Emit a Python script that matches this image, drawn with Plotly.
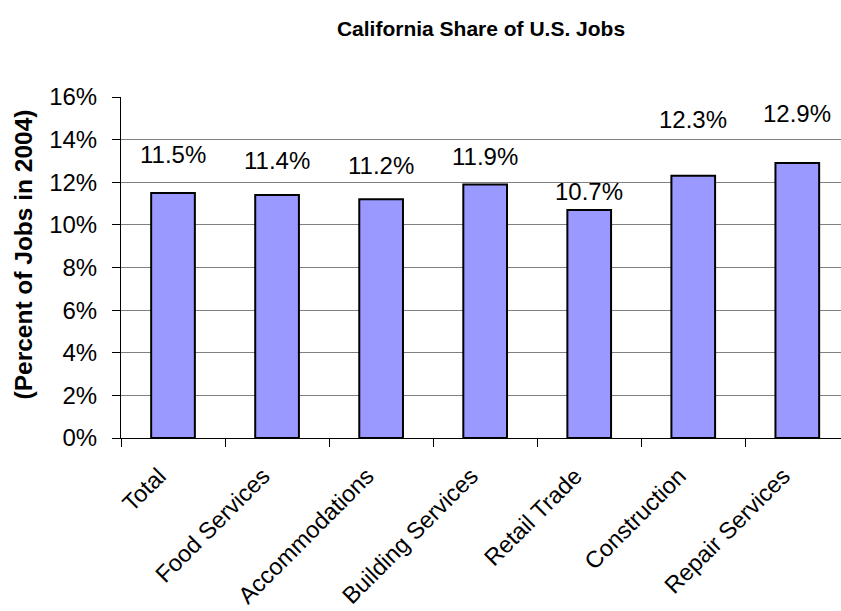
import plotly.graph_objects as go

categories = ["Total", "Food Services", "Accommodations", "Building Services",
              "Retail Trade", "Construction", "Repair Services"]
share_pct = [11.5, 11.4, 11.2, 11.9, 10.7, 12.3, 12.9]
value_labels = ["11.5%", "11.4%", "11.2%", "11.9%", "10.7%", "12.3%", "12.9%"]
y_ticks = [0, 2, 4, 6, 8, 10, 12, 14, 16]
y_tick_labels = ["0%", "2%", "4%", "6%", "8%", "10%", "12%", "14%", "16%"]

# vertical offset (px) of each value label above its bar top, as placed in the original
label_shift = [38, 35, 34, 28, 18, 56, 50]

FONT = "Liberation Sans, Arial, sans-serif"

fig = go.Figure()
fig.add_trace(go.Bar(
    x=categories, y=share_pct, width=0.42,
    marker=dict(color="#9999FF", line=dict(color="black", width=2)),
    hoverinfo="skip",
))

for c, v, t, s in zip(categories, share_pct, value_labels, label_shift):
    fig.add_annotation(x=c, y=v, text=t, showarrow=False, yanchor="middle",
                       yshift=s, font=dict(family=FONT, size=24, color="black"))

# y-axis title placed as in the original (slightly above the plot centre)
fig.add_annotation(text="<b>(Percent of Jobs in 2004)</b>", textangle=-90,
                   xref="paper", yref="paper", x=0, y=0.5, xanchor="center",
                   yanchor="middle", xshift=-98, yshift=13, showarrow=False,
                   font=dict(family=FONT, size=24.5, color="black"))

fig.update_layout(
    width=841, height=611,
    margin=dict(l=121, r=0, t=97, b=173, autoexpand=False),
    paper_bgcolor="white", plot_bgcolor="white",
    showlegend=False,
    title=dict(text="<b>California Share of U.S. Jobs</b>", x=0.5, xref="paper",
               y=1 - 29 / 611, yanchor="middle",
               font=dict(family=FONT, size=21, color="black")),
    font=dict(family=FONT, color="black"),
)
fig.update_xaxes(
    range=[-0.5, 6.42], type="category", tickson="boundaries",
    ticks="outside", ticklen=8, tickcolor="black", tickwidth=1,
    showline=True, linecolor="black", linewidth=1,
    tickangle=-45, tickfont=dict(family=FONT, size=23.5, color="black"),
    ticklabelstandoff=14, ticklabelshift=-14,
    showgrid=False,
)
fig.update_yaxes(
    range=[0, 16], tickvals=y_ticks, ticktext=y_tick_labels,
    ticks="outside", ticklen=8, tickcolor="black", tickwidth=1,
    showline=True, linecolor="black", linewidth=1,
    showgrid=True, gridcolor="#808080", gridwidth=1, zeroline=False,
    tickfont=dict(family=FONT, size=24, color="black"),
    ticklabelstandoff=10,
)

fig.write_html(
    "out.html",
    config={"displayModeBar": False},
    post_script="document.body.style.margin='0';document.body.style.overflow='hidden';",
)
